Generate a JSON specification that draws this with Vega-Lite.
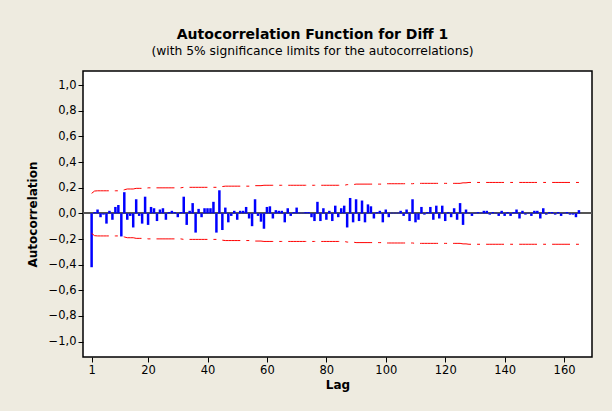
{
  "$schema": "https://vega.github.io/schema/vega-lite/v6.json",
  "width": 509,
  "height": 286,
  "autosize": {"type": "none"},
  "padding": {"left": 83, "top": 71, "right": 20, "bottom": 54},
  "background": "#EEEBE0",
  "config": {
    "view": {"stroke": "#000000", "strokeWidth": 1.5, "fill": "#FFFFFF"},
    "font": "DejaVu Sans",
    "axis": {"labelOverlap": false, "labelFlush": false}
  },
  "title": {
    "text": "Autocorrelation Function for Diff 1",
    "subtitle": "(with 5% significance limits for the autocorrelations)",
    "anchor": "middle",
    "dx": -25,
    "offset": 14,
    "font": "DejaVu Sans",
    "fontSize": 14,
    "fontWeight": "bold",
    "color": "#000000",
    "subtitleFont": "DejaVu Sans",
    "subtitleFontSize": 12.3,
    "subtitleColor": "#000000",
    "subtitlePadding": 3
  },
  "data": {
    "values": [
      {"lag":1,"acf":-0.42,"ucl":0.156,"lcl":-0.156},
      {"lag":2,"acf":0.01,"ucl":0.174,"lcl":-0.174},
      {"lag":3,"acf":0.03,"ucl":0.176,"lcl":-0.176},
      {"lag":4,"acf":-0.03,"ucl":0.176,"lcl":-0.176},
      {"lag":5,"acf":-0.01,"ucl":0.176,"lcl":-0.176},
      {"lag":6,"acf":-0.08,"ucl":0.176,"lcl":-0.176},
      {"lag":7,"acf":0.02,"ucl":0.176,"lcl":-0.176},
      {"lag":8,"acf":-0.05,"ucl":0.176,"lcl":-0.176},
      {"lag":9,"acf":0.05,"ucl":0.176,"lcl":-0.176},
      {"lag":10,"acf":0.065,"ucl":0.176,"lcl":-0.176},
      {"lag":11,"acf":-0.18,"ucl":0.177,"lcl":-0.177},
      {"lag":12,"acf":0.165,"ucl":0.184,"lcl":-0.184},
      {"lag":13,"acf":-0.05,"ucl":0.19,"lcl":-0.19},
      {"lag":14,"acf":-0.02,"ucl":0.19,"lcl":-0.19},
      {"lag":15,"acf":-0.11,"ucl":0.19,"lcl":-0.19},
      {"lag":16,"acf":0.11,"ucl":0.195,"lcl":-0.195},
      {"lag":17,"acf":-0.02,"ucl":0.195,"lcl":-0.195},
      {"lag":18,"acf":-0.08,"ucl":0.195,"lcl":-0.195},
      {"lag":19,"acf":0.13,"ucl":0.195,"lcl":-0.195},
      {"lag":20,"acf":-0.09,"ucl":0.199,"lcl":-0.199},
      {"lag":21,"acf":0.05,"ucl":0.199,"lcl":-0.199},
      {"lag":22,"acf":0.04,"ucl":0.199,"lcl":-0.199},
      {"lag":23,"acf":-0.06,"ucl":0.199,"lcl":-0.199},
      {"lag":24,"acf":0.03,"ucl":0.199,"lcl":-0.199},
      {"lag":25,"acf":0.04,"ucl":0.199,"lcl":-0.199},
      {"lag":26,"acf":-0.05,"ucl":0.199,"lcl":-0.199},
      {"lag":27,"acf":0.01,"ucl":0.199,"lcl":-0.199},
      {"lag":28,"acf":0.02,"ucl":0.199,"lcl":-0.199},
      {"lag":29,"acf":0.01,"ucl":0.199,"lcl":-0.199},
      {"lag":30,"acf":-0.03,"ucl":0.199,"lcl":-0.199},
      {"lag":31,"acf":0.01,"ucl":0.199,"lcl":-0.199},
      {"lag":32,"acf":0.13,"ucl":0.203,"lcl":-0.203},
      {"lag":33,"acf":-0.09,"ucl":0.203,"lcl":-0.203},
      {"lag":34,"acf":0.02,"ucl":0.203,"lcl":-0.203},
      {"lag":35,"acf":0.08,"ucl":0.203,"lcl":-0.203},
      {"lag":36,"acf":-0.15,"ucl":0.203,"lcl":-0.203},
      {"lag":37,"acf":0.035,"ucl":0.203,"lcl":-0.203},
      {"lag":38,"acf":-0.03,"ucl":0.203,"lcl":-0.203},
      {"lag":39,"acf":0.04,"ucl":0.203,"lcl":-0.203},
      {"lag":40,"acf":0.04,"ucl":0.203,"lcl":-0.203},
      {"lag":41,"acf":0.04,"ucl":0.203,"lcl":-0.203},
      {"lag":42,"acf":0.09,"ucl":0.203,"lcl":-0.203},
      {"lag":43,"acf":-0.15,"ucl":0.203,"lcl":-0.203},
      {"lag":44,"acf":0.18,"ucl":0.209,"lcl":-0.209},
      {"lag":45,"acf":-0.13,"ucl":0.209,"lcl":-0.209},
      {"lag":46,"acf":0.045,"ucl":0.212,"lcl":-0.212},
      {"lag":47,"acf":-0.07,"ucl":0.212,"lcl":-0.212},
      {"lag":48,"acf":-0.02,"ucl":0.212,"lcl":-0.212},
      {"lag":49,"acf":0.02,"ucl":0.212,"lcl":-0.212},
      {"lag":50,"acf":-0.05,"ucl":0.212,"lcl":-0.212},
      {"lag":51,"acf":0.02,"ucl":0.212,"lcl":-0.212},
      {"lag":52,"acf":0.02,"ucl":0.212,"lcl":-0.212},
      {"lag":53,"acf":0.05,"ucl":0.212,"lcl":-0.212},
      {"lag":54,"acf":-0.04,"ucl":0.212,"lcl":-0.212},
      {"lag":55,"acf":-0.1,"ucl":0.212,"lcl":-0.212},
      {"lag":56,"acf":0.11,"ucl":0.216,"lcl":-0.216},
      {"lag":57,"acf":-0.02,"ucl":0.216,"lcl":-0.216},
      {"lag":58,"acf":-0.065,"ucl":0.216,"lcl":-0.216},
      {"lag":59,"acf":-0.12,"ucl":0.219,"lcl":-0.219},
      {"lag":60,"acf":0.05,"ucl":0.219,"lcl":-0.219},
      {"lag":61,"acf":0.055,"ucl":0.219,"lcl":-0.219},
      {"lag":62,"acf":-0.04,"ucl":0.219,"lcl":-0.219},
      {"lag":63,"acf":0.025,"ucl":0.219,"lcl":-0.219},
      {"lag":64,"acf":0.02,"ucl":0.219,"lcl":-0.219},
      {"lag":65,"acf":0.02,"ucl":0.219,"lcl":-0.219},
      {"lag":66,"acf":-0.07,"ucl":0.219,"lcl":-0.219},
      {"lag":67,"acf":0.04,"ucl":0.219,"lcl":-0.219},
      {"lag":68,"acf":-0.02,"ucl":0.219,"lcl":-0.219},
      {"lag":69,"acf":0.01,"ucl":0.219,"lcl":-0.219},
      {"lag":70,"acf":0.045,"ucl":0.219,"lcl":-0.219},
      {"lag":71,"acf":0.005,"ucl":0.219,"lcl":-0.219},
      {"lag":72,"acf":0.005,"ucl":0.219,"lcl":-0.219},
      {"lag":73,"acf":0.01,"ucl":0.219,"lcl":-0.219},
      {"lag":74,"acf":0.01,"ucl":0.219,"lcl":-0.219},
      {"lag":75,"acf":-0.03,"ucl":0.219,"lcl":-0.219},
      {"lag":76,"acf":-0.06,"ucl":0.219,"lcl":-0.219},
      {"lag":77,"acf":0.09,"ucl":0.219,"lcl":-0.219},
      {"lag":78,"acf":-0.06,"ucl":0.219,"lcl":-0.219},
      {"lag":79,"acf":0.04,"ucl":0.219,"lcl":-0.219},
      {"lag":80,"acf":-0.05,"ucl":0.219,"lcl":-0.219},
      {"lag":81,"acf":0.02,"ucl":0.219,"lcl":-0.219},
      {"lag":82,"acf":-0.06,"ucl":0.219,"lcl":-0.219},
      {"lag":83,"acf":0.06,"ucl":0.219,"lcl":-0.219},
      {"lag":84,"acf":-0.03,"ucl":0.219,"lcl":-0.219},
      {"lag":85,"acf":0.04,"ucl":0.219,"lcl":-0.219},
      {"lag":86,"acf":0.06,"ucl":0.219,"lcl":-0.219},
      {"lag":87,"acf":-0.11,"ucl":0.224,"lcl":-0.224},
      {"lag":88,"acf":0.12,"ucl":0.224,"lcl":-0.224},
      {"lag":89,"acf":-0.07,"ucl":0.224,"lcl":-0.224},
      {"lag":90,"acf":0.11,"ucl":0.228,"lcl":-0.228},
      {"lag":91,"acf":-0.06,"ucl":0.228,"lcl":-0.228},
      {"lag":92,"acf":0.1,"ucl":0.228,"lcl":-0.228},
      {"lag":93,"acf":-0.07,"ucl":0.228,"lcl":-0.228},
      {"lag":94,"acf":0.07,"ucl":0.228,"lcl":-0.228},
      {"lag":95,"acf":0.055,"ucl":0.228,"lcl":-0.228},
      {"lag":96,"acf":-0.04,"ucl":0.228,"lcl":-0.228},
      {"lag":97,"acf":0.01,"ucl":0.228,"lcl":-0.228},
      {"lag":98,"acf":0.02,"ucl":0.228,"lcl":-0.228},
      {"lag":99,"acf":-0.07,"ucl":0.228,"lcl":-0.228},
      {"lag":100,"acf":0.03,"ucl":0.231,"lcl":-0.231},
      {"lag":101,"acf":-0.03,"ucl":0.231,"lcl":-0.231},
      {"lag":102,"acf":0.005,"ucl":0.231,"lcl":-0.231},
      {"lag":103,"acf":0.005,"ucl":0.231,"lcl":-0.231},
      {"lag":104,"acf":0.005,"ucl":0.231,"lcl":-0.231},
      {"lag":105,"acf":0.02,"ucl":0.231,"lcl":-0.231},
      {"lag":106,"acf":-0.02,"ucl":0.231,"lcl":-0.231},
      {"lag":107,"acf":0.03,"ucl":0.231,"lcl":-0.231},
      {"lag":108,"acf":-0.06,"ucl":0.231,"lcl":-0.231},
      {"lag":109,"acf":0.11,"ucl":0.231,"lcl":-0.231},
      {"lag":110,"acf":-0.07,"ucl":0.234,"lcl":-0.234},
      {"lag":111,"acf":-0.05,"ucl":0.234,"lcl":-0.234},
      {"lag":112,"acf":0.05,"ucl":0.234,"lcl":-0.234},
      {"lag":113,"acf":-0.01,"ucl":0.234,"lcl":-0.234},
      {"lag":114,"acf":0.01,"ucl":0.234,"lcl":-0.234},
      {"lag":115,"acf":0.05,"ucl":0.234,"lcl":-0.234},
      {"lag":116,"acf":-0.05,"ucl":0.234,"lcl":-0.234},
      {"lag":117,"acf":0.06,"ucl":0.234,"lcl":-0.234},
      {"lag":118,"acf":-0.04,"ucl":0.234,"lcl":-0.234},
      {"lag":119,"acf":0.06,"ucl":0.234,"lcl":-0.234},
      {"lag":120,"acf":-0.06,"ucl":0.234,"lcl":-0.234},
      {"lag":121,"acf":0.01,"ucl":0.234,"lcl":-0.234},
      {"lag":122,"acf":-0.03,"ucl":0.234,"lcl":-0.234},
      {"lag":123,"acf":0.04,"ucl":0.234,"lcl":-0.234},
      {"lag":124,"acf":-0.05,"ucl":0.234,"lcl":-0.234},
      {"lag":125,"acf":0.08,"ucl":0.234,"lcl":-0.234},
      {"lag":126,"acf":-0.09,"ucl":0.238,"lcl":-0.238},
      {"lag":127,"acf":0.03,"ucl":0.238,"lcl":-0.238},
      {"lag":128,"acf":0.005,"ucl":0.241,"lcl":-0.241},
      {"lag":129,"acf":-0.02,"ucl":0.241,"lcl":-0.241},
      {"lag":130,"acf":0.005,"ucl":0.241,"lcl":-0.241},
      {"lag":131,"acf":0.01,"ucl":0.241,"lcl":-0.241},
      {"lag":132,"acf":0.005,"ucl":0.241,"lcl":-0.241},
      {"lag":133,"acf":0.02,"ucl":0.241,"lcl":-0.241},
      {"lag":134,"acf":0.02,"ucl":0.241,"lcl":-0.241},
      {"lag":135,"acf":-0.01,"ucl":0.241,"lcl":-0.241},
      {"lag":136,"acf":0.01,"ucl":0.241,"lcl":-0.241},
      {"lag":137,"acf":0.005,"ucl":0.241,"lcl":-0.241},
      {"lag":138,"acf":-0.02,"ucl":0.241,"lcl":-0.241},
      {"lag":139,"acf":0.02,"ucl":0.241,"lcl":-0.241},
      {"lag":140,"acf":-0.02,"ucl":0.241,"lcl":-0.241},
      {"lag":141,"acf":0.01,"ucl":0.241,"lcl":-0.241},
      {"lag":142,"acf":-0.02,"ucl":0.241,"lcl":-0.241},
      {"lag":143,"acf":0.01,"ucl":0.241,"lcl":-0.241},
      {"lag":144,"acf":0.03,"ucl":0.241,"lcl":-0.241},
      {"lag":145,"acf":-0.04,"ucl":0.241,"lcl":-0.241},
      {"lag":146,"acf":0.02,"ucl":0.241,"lcl":-0.241},
      {"lag":147,"acf":-0.01,"ucl":0.241,"lcl":-0.241},
      {"lag":148,"acf":0.005,"ucl":0.241,"lcl":-0.241},
      {"lag":149,"acf":-0.02,"ucl":0.241,"lcl":-0.241},
      {"lag":150,"acf":0.02,"ucl":0.241,"lcl":-0.241},
      {"lag":151,"acf":0.02,"ucl":0.241,"lcl":-0.241},
      {"lag":152,"acf":-0.04,"ucl":0.241,"lcl":-0.241},
      {"lag":153,"acf":0.04,"ucl":0.241,"lcl":-0.241},
      {"lag":154,"acf":-0.01,"ucl":0.241,"lcl":-0.241},
      {"lag":155,"acf":0.01,"ucl":0.241,"lcl":-0.241},
      {"lag":156,"acf":0.01,"ucl":0.241,"lcl":-0.241},
      {"lag":157,"acf":-0.01,"ucl":0.241,"lcl":-0.241},
      {"lag":158,"acf":0.01,"ucl":0.241,"lcl":-0.241},
      {"lag":159,"acf":-0.02,"ucl":0.241,"lcl":-0.241},
      {"lag":160,"acf":0.005,"ucl":0.241,"lcl":-0.241},
      {"lag":161,"acf":0.01,"ucl":0.241,"lcl":-0.241},
      {"lag":162,"acf":-0.01,"ucl":0.241,"lcl":-0.241},
      {"lag":163,"acf":-0.01,"ucl":0.241,"lcl":-0.241},
      {"lag":164,"acf":-0.03,"ucl":0.241,"lcl":-0.241},
      {"lag":165,"acf":0.025,"ucl":0.241,"lcl":-0.241}
    ]
  },
  "encoding": {
    "x": {
      "field": "lag",
      "type": "quantitative",
      "scale": {"domain": [-1.9, 169.4], "nice": false, "zero": false},
      "axis": {
        "values": [1, 20, 40, 60, 80, 100, 120, 140, 160],
        "tickCount": 20,
        "title": "Lag",
        "titleFont": "DejaVu Sans",
        "titleFontSize": 12,
        "titleFontWeight": "bold",
        "titleColor": "#000000",
        "titlePadding": 4,
        "labelFont": "DejaVu Sans",
        "labelFontSize": 11.5,
        "labelColor": "#000000",
        "labelPadding": 2,
        "tickSize": 5,
        "tickColor": "#000000",
        "domain": false,
        "grid": false
      }
    }
  },
  "layer": [
    {
      "mark": {"type": "rule", "color": "#555555", "strokeWidth": 1},
      "encoding": {
        "y": {
          "datum": 0,
          "type": "quantitative",
          "scale": {"domain": [-1.12, 1.11], "nice": false, "zero": false},
          "axis": {
            "values": [-1, -0.8, -0.6, -0.4, -0.2, 0, 0.2, 0.4, 0.6, 0.8, 1],
            "tickCount": 20,
            "labelExpr": "replace(format(datum.value, '.1f'), '.', ',')",
            "title": "Autocorrelation",
            "titleFont": "DejaVu Sans",
            "titleFontSize": 12,
            "titleFontWeight": "bold",
            "titleColor": "#000000",
            "titlePadding": 9,
            "labelFont": "DejaVu Sans",
            "labelFontSize": 11.5,
            "labelColor": "#000000",
            "labelPadding": 2,
            "labelOverlap": false,
            "tickSize": 5,
            "tickColor": "#000000",
            "domain": false,
            "grid": false
          }
        },
        "x": null
      }
    },
    {
      "mark": {"type": "rule", "color": "#0000FF", "strokeWidth": 2.5},
      "encoding": {
        "y": {"field": "acf", "type": "quantitative"},
        "y2": {"datum": 0}
      }
    },
    {
      "mark": {"type": "line", "color": "#FF0000", "strokeWidth": 1, "strokeDash": [18, 6, 3, 6]},
      "encoding": {"y": {"field": "ucl", "type": "quantitative"}}
    },
    {
      "mark": {"type": "line", "color": "#FF0000", "strokeWidth": 1, "strokeDash": [18, 6, 3, 6]},
      "encoding": {"y": {"field": "lcl", "type": "quantitative"}}
    }
  ]
}
